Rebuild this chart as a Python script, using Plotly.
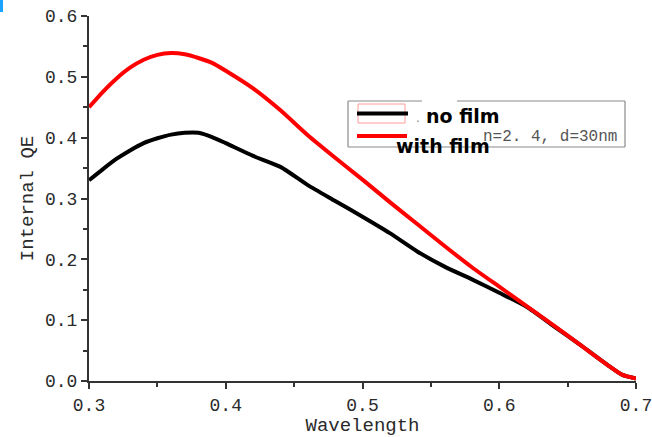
import plotly.graph_objects as go

wavelength = [0.30, 0.31, 0.32, 0.33, 0.34, 0.35, 0.36, 0.37, 0.38, 0.39, 0.40,
              0.42, 0.44, 0.46, 0.48, 0.50, 0.52, 0.54, 0.56, 0.58, 0.60,
              0.62, 0.64, 0.66, 0.68, 0.69, 0.70]
with_film = [0.450, 0.475, 0.497, 0.515, 0.528, 0.536, 0.539, 0.537, 0.531, 0.523, 0.510,
             0.481, 0.445, 0.404, 0.367, 0.331, 0.294, 0.258, 0.222, 0.187, 0.155,
             0.123, 0.091, 0.058, 0.025, 0.010, 0.004]
no_film = [0.330, 0.348, 0.365, 0.379, 0.391, 0.399, 0.405, 0.408, 0.408, 0.401, 0.391,
           0.370, 0.352, 0.322, 0.296, 0.270, 0.243, 0.213, 0.188, 0.167, 0.145,
           0.122, 0.090, 0.058, 0.025, 0.010, 0.004]

x_ticks = [0.3, 0.4, 0.5, 0.6, 0.7]
x_ticktext = ["0.3", "0.4", "0.5", "0.6", "0.7"]
y_ticks = [0.0, 0.1, 0.2, 0.3, 0.4, 0.5, 0.6]
y_ticktext = ["0.0", "0.1", "0.2", "0.3", "0.4", "0.5", "0.6"]

W, H = 652, 437
L, R, T, B = 89, 16, 16, 56
pw, ph = W - L - R, H - T - B

def px(x):
    return (x - L) / pw

def py(y):
    return (H - B - y) / ph

fig = go.Figure()
fig.add_trace(go.Scatter(x=wavelength, y=no_film, mode="lines", name="no film",
                         line=dict(color="#000000", width=4, shape="spline", smoothing=0.6),
                         showlegend=False))
fig.add_trace(go.Scatter(x=wavelength, y=with_film, mode="lines", name="with film",
                         line=dict(color="#ff0000", width=4, shape="spline", smoothing=0.6),
                         showlegend=False))

axis_font = dict(family="Liberation Mono, Courier New, monospace", size=18, color="#2a2a2a")
title_font = dict(family="Liberation Mono, Courier New, monospace", size=19, color="#2a2a2a")

fig.update_xaxes(range=[0.3, 0.7], tickvals=x_ticks, ticktext=x_ticktext, automargin=False,
                 ticklabeloverflow="allow",
                 showline=True, linecolor="#333", linewidth=2, mirror=False,
                 ticks="outside", ticklen=6, tickwidth=2, tickcolor="#333",
                 minor=dict(dtick=0.05, tick0=0.3, ticks="outside", ticklen=4, tickwidth=2, tickcolor="#333"),
                 showgrid=False, zeroline=False, tickfont=axis_font,
                 title=dict(text="Wavelength", font=title_font, standoff=0))
fig.update_yaxes(range=[0, 0.6], tickvals=y_ticks, ticktext=y_ticktext, automargin=False,
                 ticklabeloverflow="allow",
                 showline=True, linecolor="#333", linewidth=2, mirror=False,
                 ticks="outside", ticklen=6, tickwidth=2, tickcolor="#333",
                 minor=dict(dtick=0.05, tick0=0, ticks="outside", ticklen=4, tickwidth=2, tickcolor="#333"),
                 showgrid=False, zeroline=False, tickfont=axis_font,
                 title=dict(text="Internal QE", font=title_font, standoff=6))

shapes = []
# legend box (with a gap on the top border)
bx0, bx1, by0, by1 = 348, 625, 101, 147
gcol = "#8a8a8a"
for (xa, ya, xb, yb) in [(bx0, by0, 422, by0), (457, by0, bx1, by0),
                         (bx0, by1, bx1, by1), (bx0, by0, bx0, by1), (bx1, by0, bx1, by1)]:
    shapes.append(dict(type="line", xref="paper", yref="paper",
                       x0=px(xa), y0=py(ya), x1=px(xb), y1=py(yb),
                       line=dict(color=gcol, width=1.2)))
# pale red box around black sample
shapes.append(dict(type="rect", xref="paper", yref="paper",
                   x0=px(358), y0=py(104), x1=px(405), y1=py(123),
                   line=dict(color="#ff9a9a", width=1), fillcolor="rgba(0,0,0,0)"))
shapes.append(dict(type="line", xref="paper", yref="paper",
                   x0=px(357), y0=py(113.5), x1=px(408), y1=py(113.5),
                   line=dict(color="#000000", width=4)))
shapes.append(dict(type="line", xref="paper", yref="paper",
                   x0=px(357), y0=py(136), x1=px(407), y1=py(136),
                   line=dict(color="#ff0000", width=4)))
# blue mark at top-left corner
shapes.append(dict(type="rect", xref="paper", yref="paper",
                   x0=px(0), y0=py(12), x1=px(3), y1=py(0),
                   line=dict(width=0), fillcolor="#1aa3ff"))

annotations = [
    dict(text="<b>no film</b>", xref="paper", yref="paper", x=px(424), y=py(116),
         xanchor="left", yanchor="middle", showarrow=False,
         font=dict(family="DejaVu Sans", size=19, color="#000")),
    dict(text="n=2. 4, d=30nm", xref="paper", yref="paper", x=px(481), y=py(137),
         xanchor="left", yanchor="middle", showarrow=False,
         font=dict(family="Liberation Mono, monospace", size=16, color="#555")),
    dict(text="<b>with film</b>", xref="paper", yref="paper", x=px(394), y=py(146),
         xanchor="left", yanchor="middle", showarrow=False,
         font=dict(family="DejaVu Sans", size=19, color="#000")),
    dict(text=".", xref="paper", yref="paper", x=px(414), y=py(118),
         xanchor="left", yanchor="middle", showarrow=False,
         font=dict(family="DejaVu Sans", size=12, color="#888")),
]

fig.update_layout(width=W, height=H, margin=dict(l=L, r=R, t=T, b=B),
                  paper_bgcolor="white", plot_bgcolor="white",
                  shapes=shapes, annotations=annotations, showlegend=False)

fig.write_html("out.html")
